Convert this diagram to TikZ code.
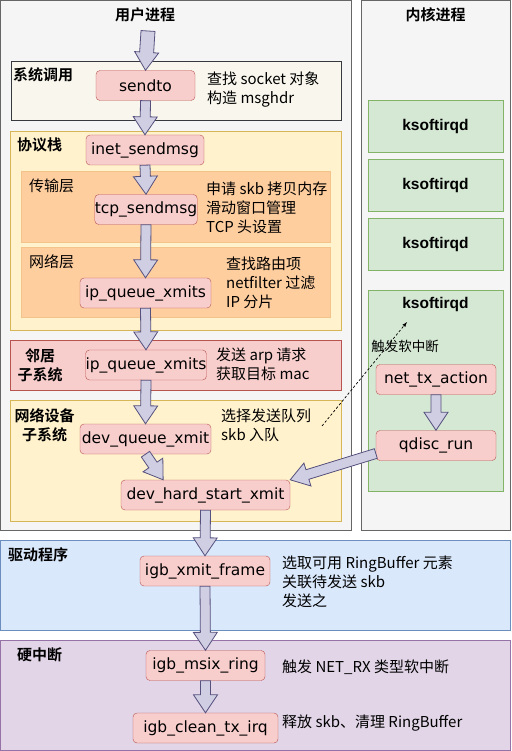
\documentclass[tikz,border=0pt]{standalone}
\usepackage{fontspec}
\setmainfont{Noto Sans CJK SC}[BoldFont={Noto Sans CJK SC Bold}]
\newfontfamily\fnfont{DejaVu Sans}
\newfontfamily\kfont{Liberation Sans}
\usepackage{xcolor}
\usetikzlibrary{calc}
\definecolor{procfill}{HTML}{F5F5F5}
\definecolor{procline}{HTML}{666666}
\definecolor{funcfill}{HTML}{F8CECC}
\definecolor{funcline}{HTML}{B85450}
\definecolor{sysfill}{HTML}{F9F7ED}
\definecolor{sysline}{HTML}{36393D}
\definecolor{stackfill}{HTML}{FFF2CC}
\definecolor{stackline}{HTML}{D6B656}
\definecolor{layerfill}{HTML}{FFCE9F}
\definecolor{layerline}{HTML}{F2C38A}
\definecolor{kfill}{HTML}{D5E8D4}
\definecolor{kline}{HTML}{82B366}
\definecolor{drvfill}{HTML}{DAE8FC}
\definecolor{drvline}{HTML}{6C8EBF}
\definecolor{irqfill}{HTML}{E1D5E7}
\definecolor{irqline}{HTML}{9673A6}
\definecolor{arrfill}{HTML}{D0CEE2}
\definecolor{arrline}{HTML}{56517E}

% fat arrow from #2 to #3, #1 = half shaft width
\newcommand{\blockarrow}[3][5pt]{%
  \draw[bigarrow] ($(#2)!#1!-90:(#3)$)
    -- ($(#3)!18pt!(#2)!#1!-90:(#3)$)
    -- ($(#3)!18pt!(#2)!12pt!-90:(#3)$)
    -- (#3)
    -- ($(#3)!18pt!(#2)!12pt!90:(#3)$)
    -- ($(#3)!18pt!(#2)!#1!90:(#3)$)
    -- ($(#2)!#1!90:(#3)$) -- cycle;}

\begin{document}
\begin{tikzpicture}[x=1pt,y=-1pt]
\tikzstyle{func} = [draw=funcline, fill=funcfill, rounded corners=4pt,
            minimum height=30pt, inner sep=0pt,
            font=\fnfont\fontsize{15.5}{18}\selectfont];
\tikzstyle{desc} = [anchor=west, align=left, inner sep=0pt,
            font=\fontsize{15}{19}\selectfont];
\tikzstyle{lbl} = [anchor=west, inner sep=0pt,
            font=\bfseries\fontsize{15}{19}\selectfont];
\tikzstyle{title} = [font=\bfseries\fontsize{15}{19}\selectfont];
\tikzstyle{kbox} = [draw=kline, fill=kfill, minimum width=135pt,
            minimum height=52pt, font=\kfont\bfseries\fontsize{15.5}{18}\selectfont];
\tikzstyle{bigarrow} = [draw=arrline, fill=arrfill, line width=0.8pt, line join=miter];

    \useasboundingbox (0,0) rectangle (511,751);

    % user / kernel columns
    \draw[draw=procline, fill=procfill, line width=0.8pt] (0.5,0.5) rectangle (351,530);
    \draw[draw=procline, fill=procfill, line width=0.8pt] (361,0.5) rectangle (510.5,530);
    \node (user) [title] at (145,15) {用户进程};
    \node (kernel) [title] at (435.5,15) {内核进程};

    % layers
    \draw[draw=sysline, fill=sysfill, line width=0.8pt] (11,61) rectangle (341,120);
    \node (sys) [lbl] at (13,75) {系统调用};
    \draw[draw=stackline, fill=stackfill, line width=0.8pt] (10.5,131) rectangle (341,330);
    \node (stack) [lbl] at (17,145) {协议栈};
    \draw[draw=layerline, fill=layerfill, line width=0.8pt] (21,171) rectangle (330,242);
    \node (trans) [lbl, font=\fontsize{15}{19}\selectfont] at (29,186) {传输层};
    \draw[draw=layerline, fill=layerfill, line width=0.8pt] (21,247) rectangle (330,317);
    \node (netl) [lbl, font=\fontsize{15}{19}\selectfont] at (29,262) {网络层};
    \draw[draw=funcline, fill=funcfill, line width=0.8pt] (10.5,340) rectangle (341,390);
    \node (nb) [title, align=center] at (40,365) {邻居\\子系统};
    \draw[draw=stackline, fill=stackfill, line width=0.8pt] (10.5,400) rectangle (341,521);
    \node (netdev) [title, align=center] at (44.5,425) {网络设备\\子系统};
    \draw[draw=drvline, fill=drvfill, line width=0.8pt] (0.5,540) rectangle (510.5,630);
    \node (drv) [lbl] at (8,555) {驱动程序};
    \draw[draw=irqline, fill=irqfill, line width=0.8pt] (0.5,640) rectangle (510.5,750.5);
    \node (hirq) [lbl] at (17,655) {硬中断};

    % kernel threads
    \foreach \y [count=\i] in {126, 185.5, 244.5} {
        \node (ks\i) [kbox] at (435.5,\y) {ksoftirqd};
    }
    \node (ks4) [kbox, minimum height=201pt] at (435.5,390.5) {};
    \node (ks4t) [font=\kfont\bfseries\fontsize{15.5}{18}\selectfont] at (435.5,304) {ksoftirqd};

    % functions
    \node (sendto) [func, minimum width=99pt] at (145.5,85.5) {sendto};
    \node (inet) [func, minimum width=118pt] at (145,150) {inet\_sendmsg};
    \node (tcp) [func, minimum width=100pt] at (146,209.5) {tcp\_sendmsg};
    \node (ipnet) [func, minimum width=131pt] at (145.5,293) {ip\_queue\_xmits};
    \node (ipnb) [func, minimum width=120pt] at (146,365) {ip\_queue\_xmits};
    \node (devq) [func, minimum width=131pt] at (145.5,439) {dev\_queue\_xmit};
    \node (devhard) [func, minimum width=169pt] at (205.5,495) {dev\_hard\_start\_xmit};
    \node (nettx) [func, minimum width=120pt] at (436,379.5) {net\_tx\_action};
    \node (qdisc) [func, minimum width=120pt] at (436,445.5) {qdisc\_run};
    \node (igbx) [func, minimum width=130pt] at (205,571) {igb\_xmit\_frame};
    \node (msix) [func, minimum width=119pt] at (205.5,665.5) {igb\_msix\_ring};
    \node (clean) [func, minimum width=145pt] at (205.5,728) {igb\_clean\_tx\_irq};

    % notes
    \node (d1) [desc] at (207,90) {查找 socket 对象\\构造 msghdr};
    \node (d2) [desc] at (206,208) {申请 skb 拷贝内存\\滑动窗口管理\\TCP 头设置};
    \node (d3) [desc] at (226,283) {查找路由项\\netfilter 过滤\\IP 分片};
    \node (d4) [desc] at (216,364.5) {发送 arp 请求\\获取目标 mac};
    \node (d5) [desc] at (221,425) {选择发送队列\\skb 入队};
    \node (d6) [desc] at (282,582) {选取可用 RingBuffer 元素\\关联待发送 skb\\发送之};
    \node (d7) [desc] at (282,667) {触发 NET\_RX 类型软中断};
    \node (d8) [desc] at (282,723) {释放 skb、清理 RingBuffer};

    % flow
    \coordinate (ustart) at (148,31);
    \coordinate (dhin) at ($(devhard.north west)!0.25!(devhard.north east)$);
    \coordinate (qstart) at ($(qdisc.west)+(0,8)$);
    \blockarrow[7pt]{ustart}{sendto.north}
    \blockarrow{sendto.south}{inet.north}
    \blockarrow{inet.south}{tcp.north}
    \blockarrow{tcp.south}{ipnet.north}
    \blockarrow{ipnet.south}{ipnb.north}
    \blockarrow{ipnb.south}{devq.north}
    \blockarrow{devq.south}{dhin}
    \blockarrow{qstart}{devhard.north east}
    \blockarrow{nettx.south}{qdisc.north}
    \blockarrow{devhard.south}{igbx.north}
    \blockarrow{igbx.south}{msix.north}
    \blockarrow{msix.south}{clean.north}

    % softirq trigger
    \coordinate (trig) at (322,426);
    \coordinate (kwake) at (407,322);
    \draw[-latex, dash pattern=on 2.5pt off 2pt, line width=0.7pt] (trig) -- (kwake);
    \node (trigl) [font=\fontsize{13.5}{16}\selectfont] at (405,346) {触发软中断};

\end{tikzpicture}
\end{document}
